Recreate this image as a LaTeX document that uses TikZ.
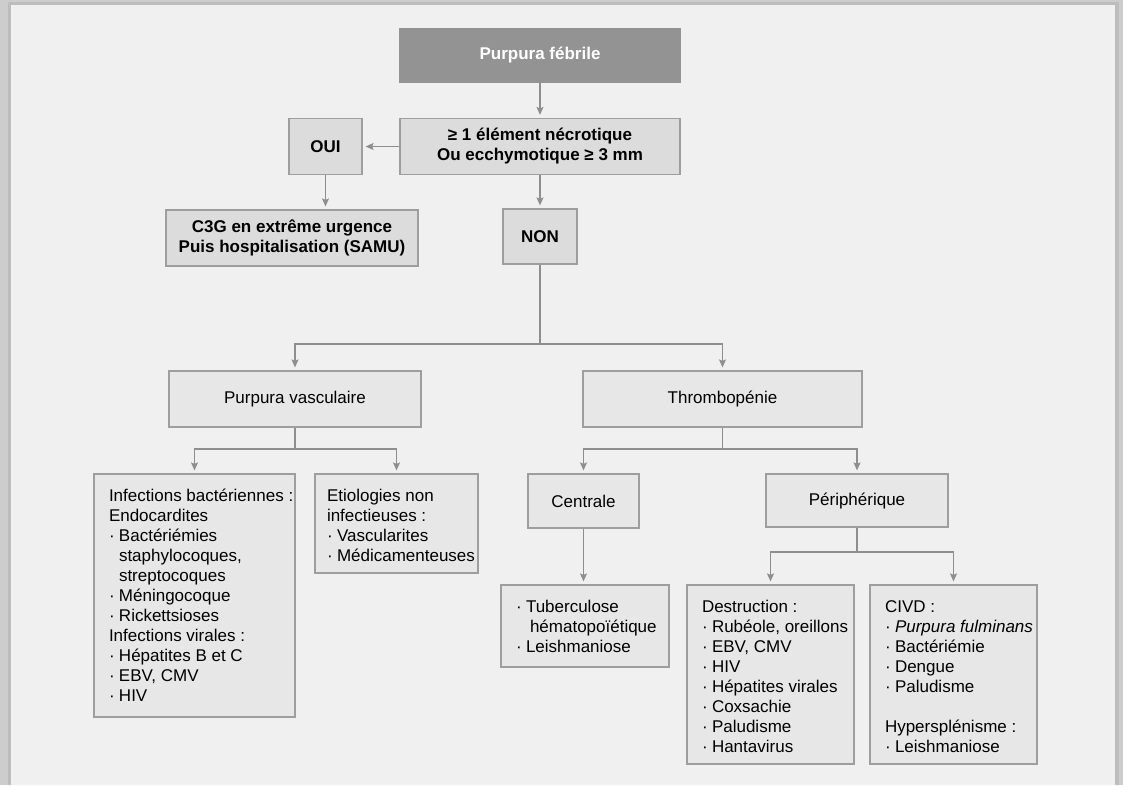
\documentclass[tikz,border=0pt]{standalone}
\usepackage{fontspec}
\setmainfont{Liberation Sans}
\usetikzlibrary{arrows.meta}
\definecolor{framegray}{HTML}{CDCDCD}
\definecolor{framedark}{HTML}{BDBDBD}
\definecolor{pagegray}{HTML}{F0F0F0}
\definecolor{headfill}{HTML}{939393}
\definecolor{keyfill}{HTML}{DCDCDC}
\definecolor{boxfill}{HTML}{E7E7E7}
\definecolor{boxline}{HTML}{9E9E9E}
\definecolor{linkgray}{HTML}{8E8E8E}
\newcommand{\dotitem}{\makebox[10pt][l]{·}}
\newcommand{\contline}{\hspace*{10pt}}
\begin{document}
\begin{tikzpicture}[x=1pt, y=-1pt, line width=1.2pt,head node/.style={rectangle,draw=headfill,fill=headfill,text=white,font=\bfseries\fontsize{17}{20}\selectfont,align=center,inner sep=0pt},key node/.style={rectangle,draw=boxline,fill=keyfill,font=\bfseries\fontsize{17}{20}\selectfont,align=center,inner sep=0pt},main node/.style={rectangle,draw=boxline,fill=boxfill,font=\fontsize{17}{20}\selectfont,align=center,inner sep=0pt},list text/.style={anchor=north west,inner sep=0pt,align=left,font=\fontsize{17}{20}\selectfont},link/.style={draw=linkgray,line width=1.2pt},arr/.style={link,-{Stealth[length=8pt,width=7pt,inset=1.5pt]},shorten >=3pt}]%
\fill[framegray] (0,0) rectangle (1123,785);
\fill[framedark] (8,2) rectangle (1119,785);
\fill[pagegray] (11,5) rectangle (1115,785);
\useasboundingbox (0,0) rectangle (1123,785);
\begin{scope}[every node/.style={}]
\node[head node, minimum width=280pt, minimum height=53pt] (fever) at (540,55.5) {Purpura fébrile};
\node[key node, minimum width=280pt, minimum height=56pt] (crit) at (540,146.5) {≥ 1 élément nécrotique\\Ou ecchymotique ≥ 3 mm};
\node[key node, minimum width=73pt, minimum height=56pt] (oui) at (325.5,146.5) {OUI};
\node[key node, minimum width=252pt, minimum height=56pt] (c3g) at (292,238) {C3G en extrême urgence\\Puis hospitalisation (SAMU)};
\node[key node, minimum width=74pt, minimum height=55pt] (non) at (540,236.5) {NON};
\node[main node, minimum width=252pt, minimum height=56pt] (pv) at (295,399) {Purpura vasculaire};
\node[main node, minimum width=279pt, minimum height=56pt] (thr) at (722.5,399) {Thrombopénie};
\node[main node, minimum width=201pt, minimum height=243pt] (infb) at (194.5,595.5) {};
\node[main node, minimum width=163pt, minimum height=99pt] (etio) at (396.5,523.5) {};
\node[main node, minimum width=111pt, minimum height=54pt] (cent) at (583.5,501) {Centrale};
\node[main node, minimum width=182pt, minimum height=53pt] (peri) at (857,500.5) {Périphérique};
\node[main node, minimum width=168pt, minimum height=82pt] (tub) at (585,626) {};
\node[main node, minimum width=167pt, minimum height=179pt] (des) at (770.5,674.5) {};
\node[main node, minimum width=167pt, minimum height=179pt] (civd) at (953.5,674.5) {};
\node[list text] (infbtext) at ([xshift=15pt,yshift=-13pt]infb.north west) {\strut Infections bactériennes :\\ Endocardites\\ \dotitem Bactériémies\\ \contline staphylocoques,\\ \contline streptocoques\\ \dotitem Méningocoque\\ \dotitem Rickettsioses\\ Infections virales :\\ \dotitem Hépatites B et C\\ \dotitem EBV, CMV\\ \dotitem HIV};
\node[list text] (etiotext) at ([xshift=12pt,yshift=-13pt]etio.north west) {\strut Etiologies non\\ infectieuses :\\ \dotitem Vascularites\\ \dotitem Médicamenteuses};
\node[list text] (tubtext) at ([xshift=15pt,yshift=-13pt]tub.north west) {\strut\dotitem Tuberculose\\ \hspace*{14pt}hématopoïétique\\ \dotitem Leishmaniose};
\node[list text] (destext) at ([xshift=15pt,yshift=-13pt]des.north west) {\strut Destruction :\\ \dotitem Rubéole, oreillons\\ \dotitem EBV, CMV\\ \dotitem HIV\\ \dotitem Hépatites virales\\ \dotitem Coxsachie\\ \dotitem Paludisme\\ \dotitem Hantavirus};
\node[list text] (civdtext) at ([xshift=15pt,yshift=-13pt]civd.north west) {\strut CIVD :\\ \dotitem \textit{Purpura fulminans}\\ \dotitem Bactériémie\\ \dotitem Dengue\\ \dotitem Paludisme\\[20pt] Hypersplénisme :\\ \dotitem Leishmaniose};
\end{scope}
\coordinate (nonsplit) at (540,344);
\coordinate (pvsplit) at (295,449);
\coordinate (thrsplit) at (722.5,449);
\coordinate (perisplit) at (857,552);
\begin{scope}[every path/.style={link}]
\draw[arr] (fever) -- (crit);
\draw[arr] (crit) -- (oui);
\draw[arr] (oui.south) -- (oui.south |- c3g.north);
\draw[arr] (crit) -- (non);
\draw[arr] (non.south) -- (nonsplit) -| (pv.north);
\draw[arr] (nonsplit) -| (thr.north);
\draw (pv.south) -- (pvsplit);
\draw[arr] (pvsplit) -| (infb.north);
\draw[arr] (pvsplit) -| (etio.north);
\draw (thr.south) -- (thrsplit);
\draw[arr] (thrsplit) -| (cent.north);
\draw[arr] (thrsplit) -| (peri.north);
\draw[arr] (cent.south) -- (cent.south |- tub.north);
\draw (peri.south) -- (perisplit);
\draw[arr] (perisplit) -| (des.north);
\draw[arr] (perisplit) -| (civd.north);
\end{scope}
\end{tikzpicture}
\end{document}
